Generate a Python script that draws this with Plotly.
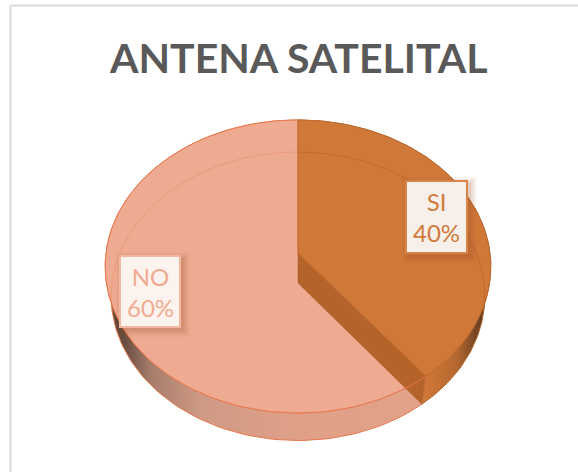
import math
import plotly.graph_objects as go

title = "ANTENA SATELITAL"
categories = ["SI", "NO"]
values = [40, 60]
face_colors = ["#D07838", "#EEAB91"]
edge_colors = ["#BC6A30", "#E9774B"]
text_colors = ["#D07B3C", "#F1AB90"]
box_fill = ["#F7EFE9", "#FCF2EE"]
box_edge = ["#D9854A", "#F2B8A2"]

TOP = dict(cx=298, cy=253, a=192, b=145.3, k=-0.092)
BOT = dict(cx=298, cy=283, a=186, b=143.0, k=-0.092)
WARP = 0.04  # perspective foreshortening of the angle


def rim(t, g):
    t = t + WARP * math.sin(2 * t)
    X, Y = math.sin(t), -math.cos(t)
    w = 1 + g["k"] * Y
    return g["cx"] + g["a"] * X / w, g["cy"] + g["b"] * Y / w


def arc(t0, t1, g, n=120):
    pts = [rim(t0 + (t1 - t0) * i / n, g) for i in range(n + 1)]
    return [p[0] for p in pts], [p[1] for p in pts]


total = sum(values)
spans, acc = [], 0.0
for v in values:
    spans.append((acc / total * 2 * math.pi, (acc + v) / total * 2 * math.pi))
    acc += v

fig = go.Figure()


def wall(span, stops, start, stop, edge):
    tx, ty = arc(span[0], span[1], TOP)
    bx, by = arc(span[0], span[1], BOT)
    fig.add_trace(go.Scatter(
        x=tx + bx[::-1] + [tx[0]], y=ty + by[::-1] + [ty[0]], mode="lines",
        line=dict(color=edge, width=1), fill="toself",
        fillgradient=dict(type="horizontal", colorscale=stops, start=start, stop=stop),
        hoverinfo="skip", showlegend=False))


# outer walls
wall(spans[0], [[0, "#D07838"], [0.5, "#B4682F"], [1, "#4E301C"]], 425, 489, "#B4682F")
wall(spans[1], [[0, "#4F3A30"], [0.06, "#6B4F42"], [0.14, "#A67D6C"], [0.3, "#CF9A85"], [0.6, "#E0A088"], [1, "#E2A289"]],
     106, 425, "#E9774B")


def face(i):
    ax, ay = arc(spans[i][0], spans[i][1], TOP)
    fig.add_trace(go.Scatter(
        x=[TOP["cx"]] + ax + [TOP["cx"]], y=[TOP["cy"]] + ay + [TOP["cy"]],
        mode="lines", line=dict(color=edge_colors[i], width=1), fill="toself",
        fillcolor=face_colors[i], name=categories[i], text=f"{categories[i]} {values[i]}%",
        hoverinfo="text", showlegend=False))


face(1)

# cut face lies over the NO face
split = spans[0][1]
rx, ry = rim(split, TOP)
qx, qy = rim(split, BOT)
fig.add_trace(go.Scatter(
    x=[TOP["cx"], BOT["cx"], qx, rx, TOP["cx"]], y=[TOP["cy"], BOT["cy"], qy, ry, TOP["cy"]],
    mode="lines", line=dict(color="#A85E28", width=0.5), fill="toself", fillcolor="#B56429",
    hoverinfo="skip", showlegend=False))

face(0)

# NO rim seen across the cut face
ax, ay = arc(spans[1][0], spans[1][0] + 0.14, TOP, n=12)
fig.add_trace(go.Scatter(x=ax, y=ay, mode="lines", line=dict(color="#E9774B", width=1),
                         hoverinfo="skip", showlegend=False))

# vertical seam below the SI face at its end
fig.add_trace(go.Scatter(x=[rx, qx], y=[ry, qy], mode="lines", line=dict(color="#C4703A", width=1),
                         hoverinfo="skip", showlegend=False))

# bottom rim seen through the translucent faces
for i, col in ((1, "rgba(233,119,75,0.35)"), (0, "rgba(176,92,40,0.55)")):
    ax, ay = arc(spans[i][0], spans[i][1], BOT)
    keep = [j for j in range(len(ax)) if ay[j] < rim(spans[0][1], TOP)[1] - 60]
    fig.add_trace(go.Scatter(x=[ax[j] for j in keep], y=[ay[j] for j in keep], mode="lines",
                             line=dict(color=col, width=1), hoverinfo="skip", showlegend=False))

shapes = [
    dict(type="line", x0=10.5, x1=10.5, y0=5, y1=472, line=dict(color="#D9D9D9", width=2), layer="below"),
    dict(type="line", x0=10, x1=578, y0=5.5, y1=5.5, line=dict(color="#D9D9D9", width=2), layer="below"),
]
boxes = [(406, 467, 181, 253), (120, 180, 256, 327)]
annotations = [dict(x=298, y=57, text=f"<b>{title}</b>", showarrow=False, xanchor="center", yanchor="middle",
                    font=dict(family="Lato", size=41, color="#595959"))]
for i, (x0, x1, y0, y1) in enumerate(boxes):
    for g, al in ((7, 0.05), (5, 0.07), (3, 0.09), (1, 0.1)):
        shapes.append(dict(type="rect", x0=x0 - g + 3, x1=x1 + g + 3, y0=y0 - g + 3, y1=y1 + g + 3,
                           line=dict(width=0), fillcolor=f"rgba(150,80,40,{al})", layer="above"))
    shapes.append(dict(type="rect", x0=x0, x1=x1, y0=y0, y1=y1, fillcolor=box_fill[i],
                       line=dict(color=box_edge[i], width=2), layer="above"))
    annotations.append(dict(x=(x0 + x1) / 2, y=(y0 + y1) / 2,
                            text=f"{categories[i]}<br>{values[i]}%", showarrow=False,
                            font=dict(family="Lato", size=24, color=text_colors[i]), align="center"))

fig.update_layout(
    width=578, height=472, margin=dict(l=0, r=0, t=0, b=0), paper_bgcolor="white", plot_bgcolor="white",
    xaxis=dict(range=[0, 578], visible=False, fixedrange=True),
    yaxis=dict(range=[472, 0], visible=False, fixedrange=True),
    shapes=shapes, annotations=annotations, showlegend=False)
fig.write_html("out.html", config=dict(displayModeBar=False),
               post_script="document.body.style.margin='0';document.body.style.overflow='hidden';")
